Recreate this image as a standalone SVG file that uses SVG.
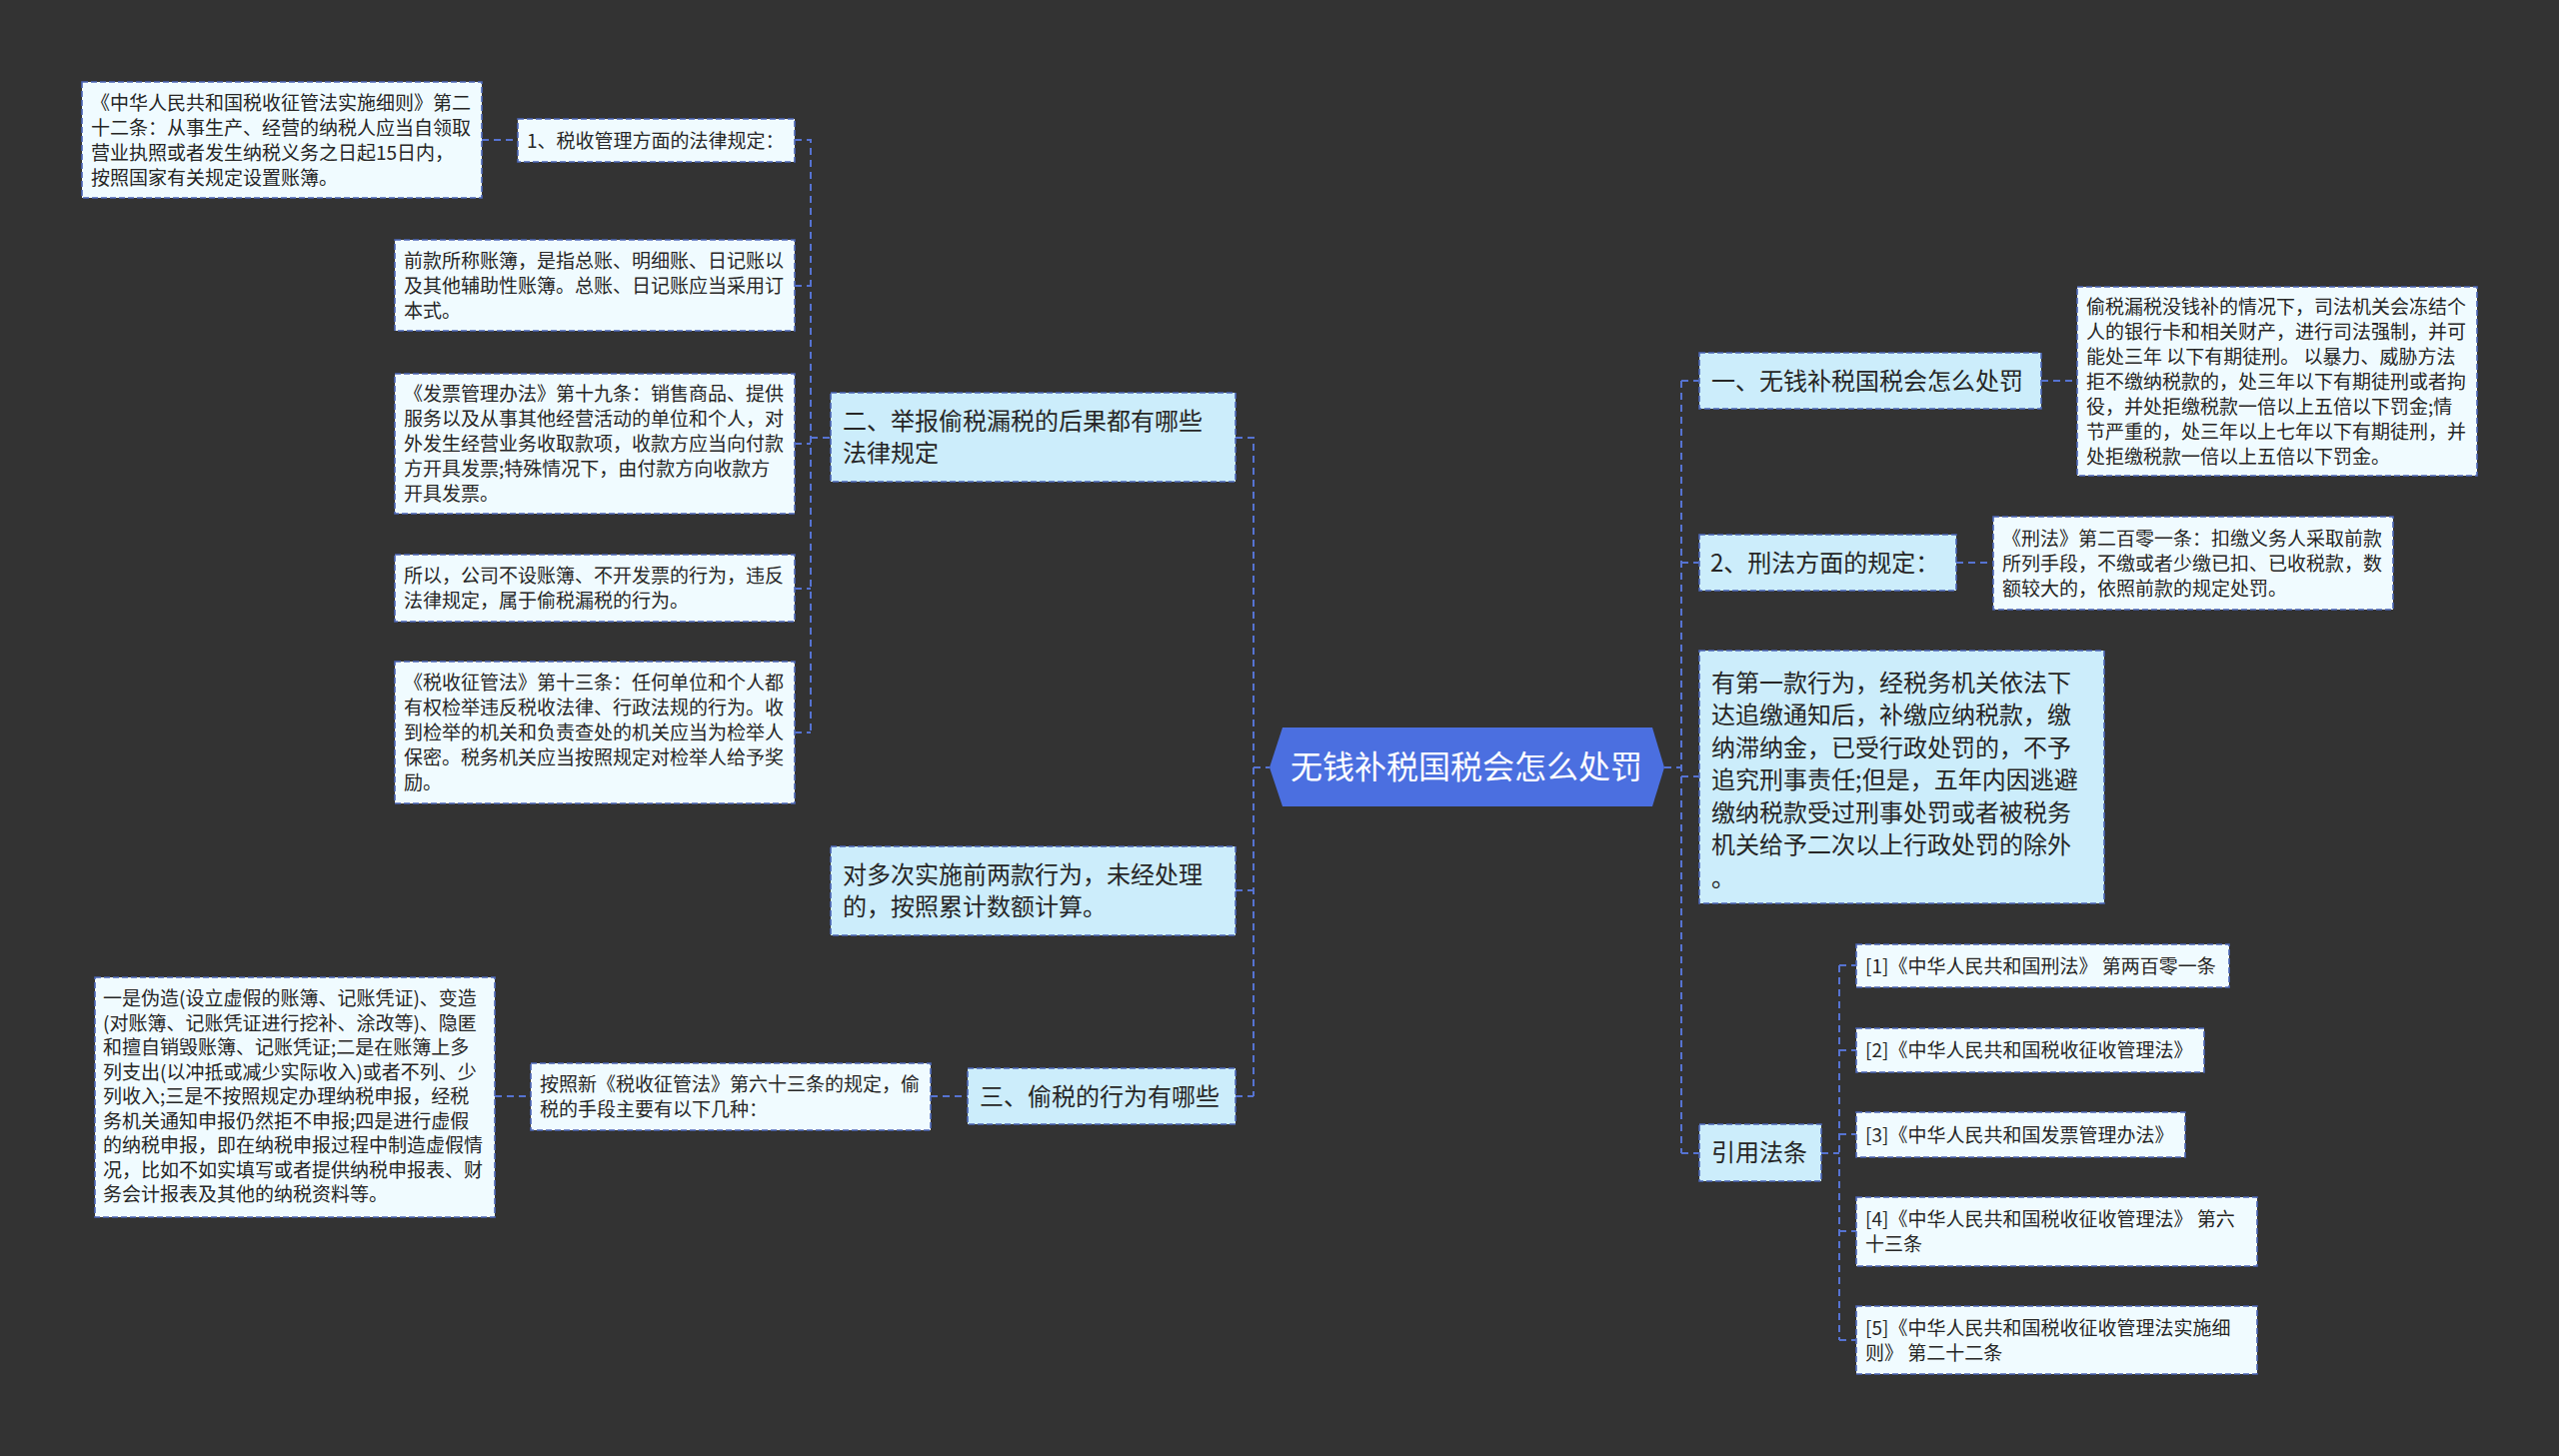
<svg xmlns="http://www.w3.org/2000/svg" width="2560" height="1457" viewBox="0 0 2560 1457">
<style>
.bg{fill:#333333}
.leaf{fill:#f0fbff;stroke:#4b66b8;stroke-width:1.6;stroke-dasharray:6 3}
.sub{fill:#ccedfb;stroke:#4b66b8;stroke-width:1.6;stroke-dasharray:6 3}
.t19{font-family:"Noto Sans CJK SC","Microsoft YaHei",sans-serif;font-size:19px;fill:#262626}
.t24{font-family:"Noto Sans CJK SC","Microsoft YaHei",sans-serif;font-size:24px;fill:#262626}
.tc{font-family:"Noto Sans CJK SC","Microsoft YaHei",sans-serif;font-size:32px;fill:#ffffff}
.con{fill:none;stroke:#5673d2;stroke-width:2;stroke-dasharray:7 5}
</style>
<rect class="bg" x="0" y="0" width="2560" height="1457"/>

<g id="connectors">
<path class="con" d="M482 140H518"/>
<path class="con" d="M795 140H811V733M795 286H811M795 444H811M795 589H811M795 733H811M811 438H831"/>
<path class="con" d="M1236 438H1254V1097M1236 891H1254M1236 1097H1254M1254 768H1270"/>
<path class="con" d="M495 1097H531M931 1097H968"/>
<path class="con" d="M1665 768H1682M1682 381V1154M1682 381H1700M1682 563H1700M1682 777H1700M1682 1154H1700"/>
<path class="con" d="M2042 381H2078M1957 563H1994"/>
<path class="con" d="M1822 1154H1840M1840 966V1341M1840 966H1857M1840 1051H1857M1840 1135H1857M1840 1232H1857M1840 1341H1857"/>
</g>

<g id="center">
<polygon points="1270,768 1283,728 1653,728 1665,768 1653,807 1283,807" fill="#4b6fe0"/>
<text class="tc" x="1467" y="779" text-anchor="middle">无钱补税国税会怎么处罚</text>
</g>

<g id="nodeA">
<rect class="leaf" x="82" y="82" width="400" height="116"/>
<text class="t19"><tspan x="91" y="109.5">《中华人民共和国税收征管法实施细则》第二</tspan><tspan x="91" y="134.5">十二条：从事生产、经营的纳税人应当自领取</tspan><tspan x="91" y="159.5">营业执照或者发生纳税义务之日起15日内，</tspan><tspan x="91" y="184.5">按照国家有关规定设置账簿。</tspan></text>
</g>
<g id="nodeB">
<rect class="leaf" x="518" y="119" width="277" height="43"/>
<text class="t19" x="527" y="147.5">1、税收管理方面的法律规定：</text>
</g>
<g id="nodeC">
<rect class="leaf" x="395" y="240" width="400" height="91"/>
<text class="t19"><tspan x="404" y="267.5">前款所称账簿，是指总账、明细账、日记账以</tspan><tspan x="404" y="292.5">及其他辅助性账簿。总账、日记账应当采用订</tspan><tspan x="404" y="317.5">本式。</tspan></text>
</g>
<g id="nodeD">
<rect class="leaf" x="395" y="374" width="400" height="140"/>
<text class="t19"><tspan x="404" y="401">《发票管理办法》第十九条：销售商品、提供</tspan><tspan x="404" y="426">服务以及从事其他经营活动的单位和个人，对</tspan><tspan x="404" y="451">外发生经营业务收取款项，收款方应当向付款</tspan><tspan x="404" y="476">方开具发票;特殊情况下，由付款方向收款方</tspan><tspan x="404" y="501">开具发票。</tspan></text>
</g>
<g id="nodeE">
<rect class="leaf" x="395" y="555" width="400" height="67"/>
<text class="t19"><tspan x="404" y="583">所以，公司不设账簿、不开发票的行为，违反</tspan><tspan x="404" y="608">法律规定，属于偷税漏税的行为。</tspan></text>
</g>
<g id="nodeF">
<rect class="leaf" x="395" y="662" width="400" height="142"/>
<text class="t19"><tspan x="404" y="690">《税收征管法》第十三条：任何单位和个人都</tspan><tspan x="404" y="715">有权检举违反税收法律、行政法规的行为。收</tspan><tspan x="404" y="740">到检举的机关和负责查处的机关应当为检举人</tspan><tspan x="404" y="765">保密。税务机关应当按照规定对检举人给予奖</tspan><tspan x="404" y="790">励。</tspan></text>
</g>
<g id="nodeG">
<rect class="sub" x="831" y="393" width="405" height="89"/>
<text class="t24"><tspan x="843" y="430">二、举报偷税漏税的后果都有哪些</tspan><tspan x="843" y="462">法律规定</tspan></text>
</g>
<g id="nodeH">
<rect class="sub" x="831" y="847" width="405" height="89"/>
<text class="t24"><tspan x="843" y="884">对多次实施前两款行为，未经处理</tspan><tspan x="843" y="916">的，按照累计数额计算。</tspan></text>
</g>
<g id="nodeI">
<rect class="sub" x="968" y="1069" width="268" height="56"/>
<text class="t24" x="980" y="1105.5">三、偷税的行为有哪些</text>
</g>
<g id="nodeJ">
<rect class="leaf" x="531" y="1064" width="400" height="67"/>
<text class="t19"><tspan x="540" y="1092">按照新《税收征管法》第六十三条的规定，偷</tspan><tspan x="540" y="1117">税的手段主要有以下几种：</tspan></text>
</g>
<g id="nodeK">
<rect class="leaf" x="95" y="978" width="400" height="240"/>
<text class="t19"><tspan x="103" y="1006">一是伪造(设立虚假的账簿、记账凭证)、变造</tspan><tspan x="103" y="1030.5">(对账簿、记账凭证进行挖补、涂改等)、隐匿</tspan><tspan x="103" y="1055">和擅自销毁账簿、记账凭证;二是在账簿上多</tspan><tspan x="103" y="1079.5">列支出(以冲抵或减少实际收入)或者不列、少</tspan><tspan x="103" y="1104">列收入;三是不按照规定办理纳税申报，经税</tspan><tspan x="103" y="1128.5">务机关通知申报仍然拒不申报;四是进行虚假</tspan><tspan x="103" y="1153">的纳税申报，即在纳税申报过程中制造虚假情</tspan><tspan x="103" y="1177.5">况，比如不如实填写或者提供纳税申报表、财</tspan><tspan x="103" y="1202">务会计报表及其他的纳税资料等。</tspan></text>
</g>

<g id="nodeR1">
<rect class="sub" x="1700" y="353" width="342" height="56"/>
<text class="t24" x="1712" y="389.5">一、无钱补税国税会怎么处罚</text>
</g>
<g id="nodeR1a">
<rect class="leaf" x="2078" y="287" width="400" height="189"/>
<text class="t19"><tspan x="2087" y="313.5">偷税漏税没钱补的情况下，司法机关会冻结个</tspan><tspan x="2087" y="338.5">人的银行卡和相关财产，进行司法强制，并可</tspan><tspan x="2087" y="363.5">能处三年 以下有期徒刑。 以暴力、威胁方法</tspan><tspan x="2087" y="388.5">拒不缴纳税款的，处三年以下有期徒刑或者拘</tspan><tspan x="2087" y="413.5">役，并处拒缴税款一倍以上五倍以下罚金;情</tspan><tspan x="2087" y="438.5">节严重的，处三年以上七年以下有期徒刑，并</tspan><tspan x="2087" y="463.5">处拒缴税款一倍以上五倍以下罚金。</tspan></text>
</g>
<g id="nodeR2">
<rect class="sub" x="1700" y="535" width="257" height="56"/>
<text class="t24" x="1711" y="571.5">2、刑法方面的规定：</text>
</g>
<g id="nodeR2a">
<rect class="leaf" x="1994" y="517" width="400" height="93"/>
<text class="t19"><tspan x="2003" y="545.5">《刑法》第二百零一条：扣缴义务人采取前款</tspan><tspan x="2003" y="570.5">所列手段，不缴或者少缴已扣、已收税款，数</tspan><tspan x="2003" y="595.5">额较大的，依照前款的规定处罚。</tspan></text>
</g>
<g id="nodeR3">
<rect class="sub" x="1700" y="651" width="405" height="253"/>
<text class="t24"><tspan x="1712" y="691.5">有第一款行为，经税务机关依法下</tspan><tspan x="1712" y="724">达追缴通知后，补缴应纳税款，缴</tspan><tspan x="1712" y="756.5">纳滞纳金，已受行政处罚的，不予</tspan><tspan x="1712" y="789">追究刑事责任;但是，五年内因逃避</tspan><tspan x="1712" y="821.5">缴纳税款受过刑事处罚或者被税务</tspan><tspan x="1712" y="854">机关给予二次以上行政处罚的除外</tspan><tspan x="1712" y="886.5">。</tspan></text>
</g>
<g id="nodeR4">
<rect class="sub" x="1700" y="1125" width="122" height="57"/>
<text class="t24" x="1712" y="1162">引用法条</text>
</g>
<g id="ref1">
<rect class="leaf" x="1857" y="945" width="373" height="43"/>
<text class="t19" x="1866" y="973.5">[1]《中华人民共和国刑法》 第两百零一条</text>
</g>
<g id="ref2">
<rect class="leaf" x="1857" y="1029" width="348" height="44"/>
<text class="t19" x="1866" y="1058">[2]《中华人民共和国税收征收管理法》</text>
</g>
<g id="ref3">
<rect class="leaf" x="1857" y="1113" width="329" height="45"/>
<text class="t19" x="1866" y="1142.5">[3]《中华人民共和国发票管理办法》</text>
</g>
<g id="ref4">
<rect class="leaf" x="1857" y="1198" width="401" height="69"/>
<text class="t19"><tspan x="1866" y="1227">[4]《中华人民共和国税收征收管理法》 第六</tspan><tspan x="1866" y="1252">十三条</tspan></text>
</g>
<g id="ref5">
<rect class="leaf" x="1857" y="1307" width="401" height="68"/>
<text class="t19"><tspan x="1866" y="1335.5">[5]《中华人民共和国税收征收管理法实施细</tspan><tspan x="1866" y="1360.5">则》 第二十二条</tspan></text>
</g>
</svg>
